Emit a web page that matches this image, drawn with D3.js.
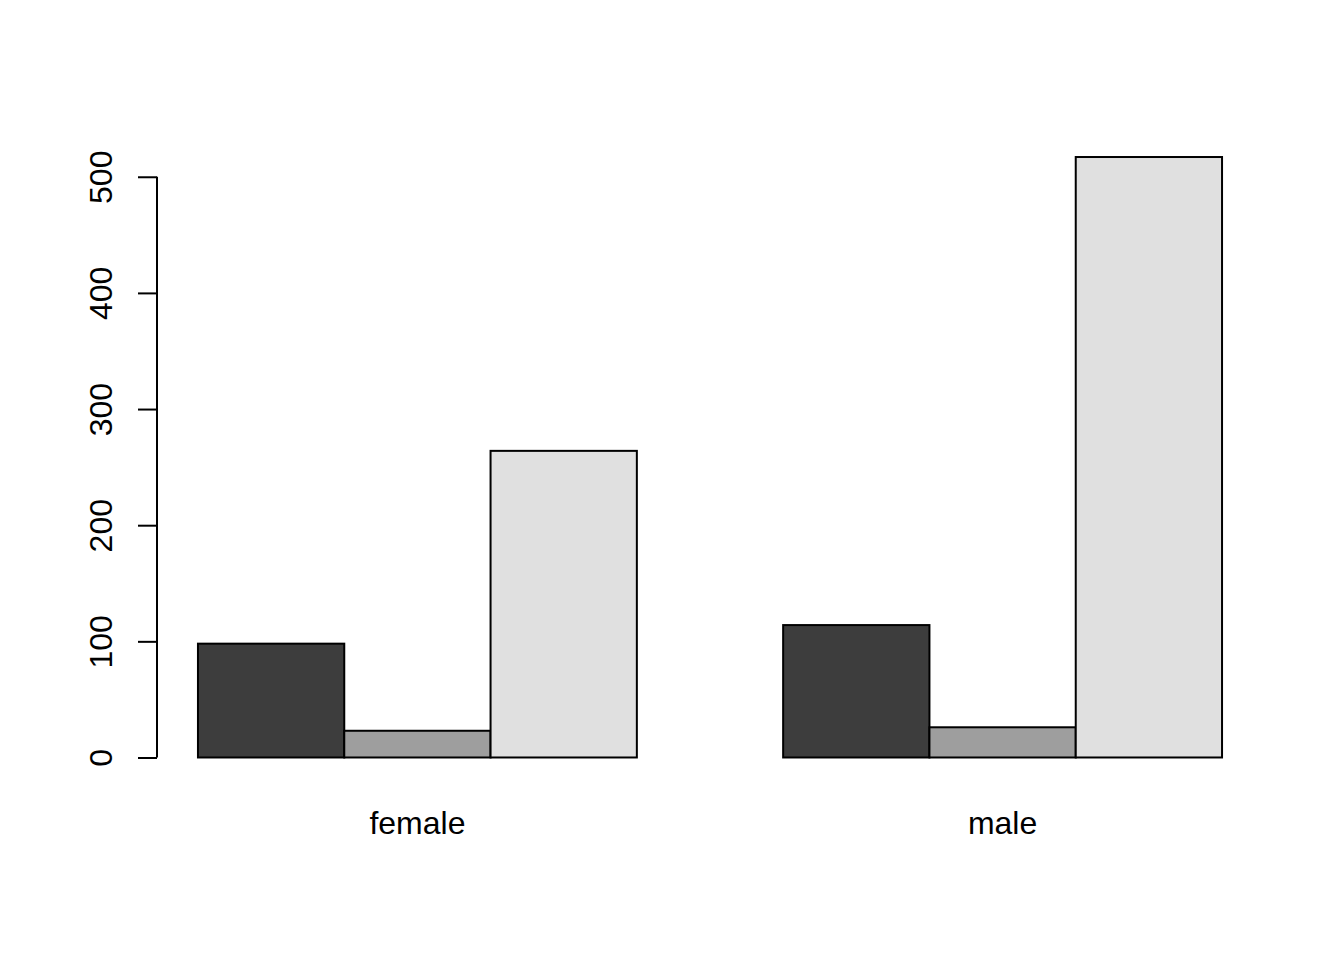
<!DOCTYPE html>
<html>
<head>
<meta charset="utf-8">
<script src="https://cdn.jsdelivr.net/npm/d3@7"></script>
<style>
  html, body { margin: 0; padding: 0; background: #ffffff; }
  svg { display: block; }
  text { font-family: "Liberation Sans", Arial, Helvetica, sans-serif; fill: #000; }
</style>
</head>
<body>
<svg id="chart" width="1344" height="960"></svg>
<script>
// ---- data ----
const categories = ["female", "male"];
const seriesNames = ["s1", "s2", "s3"];
const femaleValues = [98, 23, 264];
const maleValues = [114, 26, 517];
const yTicks = [0, 100, 200, 300, 400, 500];
const barColors = ["#3d3d3d", "#9e9e9e", "#e0e0e0"];

const groups = [femaleValues, maleValues];

const svg = d3.select("#chart");
const W = 1344, H = 960;

// plot region (R-style)
const plot = { left: 157, right: 1263, top: 133, bottom: 781.5 };

// x: bar units, as in R barplot(beside=TRUE, space=c(0,1))
const nS = seriesNames.length;
const bars = [];
let pos = 0;
groups.forEach((vals, gi) => {
  pos += 1; // group gap
  vals.forEach((v, si) => {
    bars.push({ group: gi, series: si, x0: pos, x1: pos + 1, value: v });
    pos += 1;
  });
});
const xmin = 1, xmax = pos;
const xpad = (xmax - xmin) * 0.04;
const x = d3.scaleLinear().domain([xmin - xpad, xmax + xpad]).range([plot.left, plot.right]);

const ymax = d3.max(bars, d => d.value);
const ypad = ymax * 0.04;
const y = d3.scaleLinear().domain([-ypad, ymax + ypad]).range([plot.bottom, plot.top]);

// bars
svg.append("g").selectAll("rect").data(bars).join("rect")
  .attr("x", d => x(d.x0))
  .attr("y", d => y(d.value))
  .attr("width", d => x(d.x1) - x(d.x0))
  .attr("height", d => y(0) - y(d.value))
  .attr("fill", d => barColors[d.series])
  .attr("stroke", "#000")
  .attr("stroke-width", 2);

// y axis
const yAxis = d3.axisLeft(y).tickValues(yTicks).tickSize(19).tickPadding(0).tickFormat(d3.format("d"));
const gy = svg.append("g").attr("transform", `translate(${plot.left},0)`).call(yAxis);
gy.select(".domain").remove();
gy.append("line")
  .attr("x1", 0).attr("x2", 0)
  .attr("y1", y(yTicks[0])).attr("y2", y(yTicks[yTicks.length - 1]))
  .attr("stroke", "#000").attr("stroke-width", 2);
gy.selectAll(".tick line").attr("stroke", "#000").attr("stroke-width", 2);
gy.selectAll(".tick text").remove();
gy.selectAll(".tick").append("text")
  .attr("transform", "translate(-45,0) rotate(-90)")
  .attr("text-anchor", "middle")
  .attr("fill", "#000")
  .style("font-size", "32px")
  .style("font-family", "'Liberation Sans', Arial, sans-serif")
  .text(d => d);

// category labels
svg.append("g").selectAll("text").data(categories).join("text")
  .attr("x", (d, i) => {
    const gb = bars.filter(b => b.group === i);
    return x((gb[0].x0 + gb[gb.length - 1].x1) / 2);
  })
  .attr("y", 834)
  .attr("text-anchor", "middle")
  .style("font-size", "32px")
  .text(d => d);
</script>
</body>
</html>
